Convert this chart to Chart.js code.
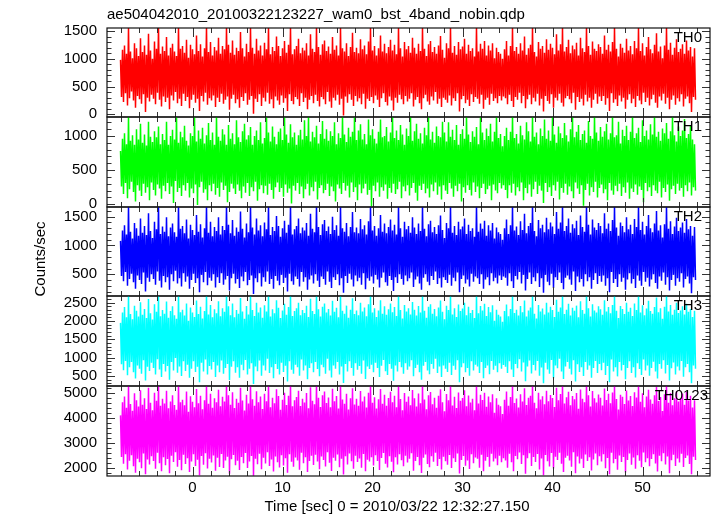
<!DOCTYPE html>
<html>
<head>
<meta charset="utf-8">
<script src="https://cdn.jsdelivr.net/npm/chart.js@4.4.0/dist/chart.umd.min.js"></script>
<style>
html, body { margin: 0; padding: 0; background: #fff; }
#wrap { position: relative; width: 717px; height: 516px; }
#wrap canvas { position: absolute; left: 0; top: 0; }
</style>
</head>
<body>
<div id="wrap">
  <canvas id="p0" width="717" height="516"></canvas>
  <canvas id="p1" width="717" height="516"></canvas>
  <canvas id="p2" width="717" height="516"></canvas>
  <canvas id="p3" width="717" height="516"></canvas>
  <canvas id="p4" width="717" height="516"></canvas>
</div>
<script>
// texts
const plotTitle = 'ae504042010_20100322123227_wam0_bst_4band_nobin.qdp';
const xTitle = 'Time [sec] 0 = 2010/03/22 12:32:27.150';
const yTitle = 'Counts/sec';
const bandNames = ['TH0', 'TH1', 'TH2', 'TH3', 'TH0123'];

// time bins: first bin at -8 s, 1/9 s apart (peaks and dips alternate)
const tStart = -8;
const tStep = 1 / 9;

// y axis ranges per band
const yMin = [-49, -40, 123, 227, 1694];
const yMax = [1554, 1278, 1668, 2683, 5266];
const yStepLabel = [500, 500, 500, 500, 1000];
const yStepMinor = [100, 100, 100, 100, 200];

// counts/sec
const th0 = [
  980,310, 1160,220, 1240,380, 1090,160, 1560,290, 1130,410, 1010,250, 1280,120,
  1190,330, 1050,270, 1370,190, 1120,360, 1240,40, 1070,300, 1450,230, 1150,350,
  1000,280, 1310,180, 1180,390, 1560,260, 1090,140, 1220,320, 1140,220, 1390,300,
  1060,90, 1200,340, 1270,250, 1130,400, 1050,200, 1560,280, 1180,150, 1230,370,
  1110,240, 1340,310, 1020,110, 1250,260, 1170,350, 1080,210, 1420,280, 1140,60,
  1260,330, 1040,230, 1190,390, 1560,170, 1120,290, 1300,250, 1060,340, 1210,130,
  1150,300, 1380,220, 1090,370, 1230,190, 1170,260, 1560,320, 1250,80, 1110,280,
  1330,350, 1070,200, 1200,270, 1140,120, 1480,310, 1190,240, 1040,380, 1270,170,
  1120,260, 1560,330, 1200,10, 1090,280, 1360,220, 1150,360, 1240,150, 1060,300,
  1290,230, 1170,390, 1560,190, 1080,270, 1210,110, 1140,320, 1400,250, 1230,170,
  1050,340, 1190,210, 1320,290, 1110,60, 1250,360, 1560,240, 1080,180, 1170,310,
  1230,270, 1360,150, 1100,380, 1200,220, 1150,300, 1280,90, 1060,260, 1440,330,
  1180,200, 1120,350, 1560,240, 1210,140, 1070,310, 1260,270, 1330,180, 1140,400,
  1220,230, 1090,120, 1390,300, 1160,250, 1240,350, 1060,170, 1560,280, 1190,-20,
  1130,320, 1280,210, 1050,360, 1210,260, 1470,150, 1120,330, 1200,230, 1100,290,
  1350,180, 1170,370, 1240,100, 1080,280, 1310,240, 1560,310, 1150,200, 1230,340,
  1060,260, 1190,130, 1420,290, 1130,380, 1270,220, 1100,160, 1210,320, 1340,250,
  1150,70, 1250,300, 1080,210, 1560,350, 1190,270, 1040,180, 1300,330, 1170,230,
  1230,280, 1110,380, 1380,140, 1200,260, 1090,310, 1270,200, 1140,90, 1560,290,
  1180,350, 1050,230, 1260,170, 1320,320, 1120,250, 1210,400, 1090,190, 1240,280,
  1410,130, 1160,300, 1020,260, 1280,210, 1190,340, 1560,160, 1110,290, 1230,240,
  1070,380, 1300,50, 1170,270, 1220,330, 1360,200, 1090,260, 1250,150, 1140,360,
  1190,220, 1040,310, 1560,280, 1130,190, 1270,350, 1180,100, 1320,260, 1060,300,
  1240,170, 1150,370, 1280,240, 1010,290, 1200,200, 1120,330, 1090,250, 1000,320,
  1170,290, 1320,180, 1060,350, 1230,240, 1560,130, 1140,310, 1210,260, 1090,390,
  1280,200, 1150,330, 1400,110, 1070,270, 1190,350, 1250,180, 1560,300, 1120,230,
  1040,370, 1300,160, 1180,280, 1230,50, 1110,330, 1350,240, 1160,190, 1270,360,
  1200,120, 1080,300, 1440,250, 1150,370, 1260,210, 1560,140, 1130,290, 1210,330,
  1340,270, 1100,200, 1240,390, 1170,80, 1290,310, 1060,220, 1380,280, 1190,160,
  1120,350, 1560,230, 1230,300, 1070,120, 1310,260, 1180,370, 1140,190, 1260,320,
  1210,240, 1090,330, 1420,170, 1160,290, 1250,60, 1130,380, 1300,210, 1560,270,
  1180,150, 1040,340, 1270,230, 1200,300, 1110,100, 1360,260, 1150,360, 1230,200,
  1080,280, 1320,130, 1190,330, 1560,250, 1140,180, 1280,390, 1060,220, 1210,300,
  1390,160, 1170,270, 1100,350, 1250,210, 1460,120, 1130,320, 1220,250, 1010,370,
  1240,190, 1560,300, 1160,90, 1290,260, 1070,340, 1200,170, 1350,290, 1120,230,
  1180,360, 1260,140, 1090,280, 1330,320, 1150,200, 1210,40, 1040,310, 1190,260
];
const th1 = [
  780,260, 960,150, 1040,310, 880,90, 1290,220, 930,330, 1010,180, 870,40,
  1100,280, 950,200, 1180,120, 900,300, 1020,170, 860,250, 1210,60, 990,320,
  910,210, 1070,130, 980,290, 1140,230, 880,80, 1030,270, 940,190, 1210,310,
  870,150, 1000,260, 1090,20, 950,340, 1290,180, 900,240, 1060,120, 980,280,
  1150,200, 930,310, 860,100, 1040,230, 1000,160, 1290,290, 920,-10, 1080,250,
  960,330, 1120,170, 890,220, 1010,60, 1190,280, 940,190, 1050,300, 870,140,
  1290,240, 990,110, 930,320, 1100,210, 1020,270, 870,30, 1160,180, 960,300,
  1040,230, 880,150, 1230,290, 980,200, 910,90, 1070,260, 1180,170, 950,310,
  1010,120, 1130,250, 870,190, 1000,330, 1080,50, 940,220, 1200,280, 890,160,
  970,270, 1290,140, 1050,300, 920,210, 1140,80, 990,250, 880,320, 1060,180,
  1110,240, 940,110, 1290,290, 1020,170, 900,230, 1170,10, 980,270, 1050,200,
  870,310, 1010,150, 1090,260, 950,90, 1230,220, 1000,300, 1290,130, 920,250,
  1060,190, 980,330, 1150,70, 890,240, 1030,280, 1220,160, 960,210, 1100,300,
  930,120, 1070,260, 1000,190, 1200,40, 880,290, 1040,230, 970,150, 1290,310,
  1020,200, 910,270, 1120,100, 990,320, 1060,180, 1290,250, 940,60, 1080,290,
  1170,160, 950,230, 1030,300, 880,140, 1240,210, 1010,-30, 1100,270, 960,190,
  890,320, 1060,110, 1240,250, 980,200, 1000,290, 1130,80, 920,240, 1050,170,
  1290,300, 970,150, 1080,220, 940,330, 1160,90, 1020,260, 870,190, 1110,280,
  1000,130, 1290,240, 930,310, 1070,170, 1180,50, 960,270, 1040,210, 890,300,
  1120,160, 1010,230, 1290,100, 950,290, 1060,190, 900,320, 1140,140, 1000,260,
  980,70, 1210,280, 1050,200, 920,150, 1200,310, 990,230, 1090,110, 940,270,
  1160,190, 870,300, 1030,40, 1100,250, 960,170, 1290,280, 1020,210, 910,130,
  1070,320, 990,180, 1130,260, 880,90, 1290,240, 1050,300, 940,150, 1110,220,
  1000,270, 1180,60, 920,290, 1060,200, 1290,160, 970,310, 1030,230, 850,280,
  1000,210, 1120,90, 940,280, 1060,170, 1290,300, 970,130, 1030,250, 890,190,
  1150,320, 1010,60, 950,240, 1200,160, 1070,290, 920,110, 1290,220, 990,330,
  1050,150, 880,270, 1110,200, 1000,20, 1240,310, 960,180, 1080,250, 930,120,
  1290,280, 1020,200, 900,330, 1140,70, 1040,240, 970,170, 1190,300, 1010,140,
  920,260, 1100,190, 1290,90, 980,320, 1060,230, 1160,150, 940,280, 1030,-20,
  1080,210, 900,300, 1220,130, 1000,250, 960,180, 1290,330, 1050,100, 930,240,
  1130,290, 990,160, 1070,220, 1180,60, 950,310, 1040,200, 1290,140, 980,270,
  1010,190, 1210,300, 890,120, 1090,250, 1000,170, 1150,320, 940,80, 1060,230,
  1290,180, 970,290, 1040,140, 1120,260, 910,210, 1230,30, 1000,310, 1080,190,
  950,250, 1170,120, 1020,280, 1290,200, 990,160, 1060,330, 930,100, 1110,240,
  1040,180, 1190,290, 960,50, 1070,220, 1290,270, 1010,150, 920,300, 1140,200,
  1000,240, 1080,110, 1250,280, 970,190, 1030,320, 1160,130, 950,250, 880,200
];
const th2 = [
  1080,470, 1260,380, 1350,540, 1190,300, 1680,420, 1240,510, 1120,360, 1390,250,
  1300,480, 1170,400, 1470,330, 1220,530, 1340,200, 1180,440, 1560,370, 1250,500,
  1130,420, 1410,320, 1280,550, 1680,390, 1200,270, 1330,470, 1240,360, 1490,450,
  1160,230, 1310,500, 1380,380, 1230,560, 1150,340, 1680,430, 1290,290, 1340,520,
  1210,370, 1450,460, 1120,250, 1360,400, 1270,510, 1180,350, 1530,430, 1240,190,
  1370,490, 1140,360, 1300,540, 1680,310, 1220,440, 1410,390, 1160,500, 1320,270,
  1250,450, 1490,350, 1190,520, 1340,320, 1270,410, 1680,470, 1360,220, 1210,430,
  1440,510, 1170,340, 1310,420, 1240,260, 1590,460, 1290,380, 1140,540, 1380,310,
  1230,400, 1680,480, 1310,160, 1190,430, 1470,360, 1260,520, 1350,290, 1160,450,
  1400,370, 1280,550, 1680,330, 1180,420, 1320,250, 1250,470, 1510,390, 1340,310,
  1150,490, 1300,350, 1430,440, 1220,200, 1360,510, 1680,380, 1190,320, 1280,460,
  1340,420, 1470,290, 1210,540, 1310,370, 1260,450, 1390,230, 1170,410, 1550,480,
  1290,340, 1230,500, 1680,390, 1320,280, 1180,460, 1370,420, 1440,320, 1250,550,
  1330,370, 1200,260, 1500,450, 1270,400, 1350,500, 1170,310, 1680,430, 1300,180,
  1240,470, 1390,350, 1160,510, 1320,410, 1580,290, 1230,480, 1310,380, 1210,440,
  1460,320, 1280,520, 1350,240, 1190,430, 1420,390, 1680,460, 1260,340, 1340,490,
  1170,410, 1300,270, 1530,440, 1240,530, 1380,360, 1210,300, 1320,470, 1450,400,
  1260,210, 1360,450, 1190,350, 1680,500, 1300,420, 1150,320, 1410,480, 1280,380,
  1340,430, 1220,530, 1490,280, 1310,410, 1200,460, 1380,340, 1250,230, 1680,440,
  1290,500, 1160,370, 1370,310, 1430,470, 1230,400, 1320,550, 1200,330, 1350,430,
  1520,270, 1270,450, 1130,400, 1390,350, 1300,490, 1680,300, 1220,440, 1340,380,
  1180,530, 1410,190, 1280,420, 1330,480, 1470,340, 1200,410, 1360,290, 1250,510,
  1300,370, 1150,460, 1680,430, 1240,330, 1380,500, 1290,250, 1430,410, 1170,450,
  1350,310, 1260,520, 1390,380, 1120,440, 1310,340, 1230,480, 1200,400, 1100,460,
  1300,440, 1450,300, 1200,520, 1350,380, 1680,260, 1260,470, 1330,410, 1180,540,
  1420,340, 1270,490, 1550,220, 1210,420, 1340,530, 1390,330, 1680,450, 1250,380,
  1160,520, 1440,280, 1300,430, 1360,180, 1230,490, 1480,370, 1280,310, 1400,510,
  1330,260, 1200,450, 1580,400, 1290,530, 1400,350, 1680,240, 1250,440, 1340,480,
  1470,410, 1220,320, 1370,550, 1300,210, 1430,460, 1180,360, 1520,420, 1320,290,
  1240,500, 1680,380, 1360,450, 1190,250, 1450,400, 1310,520, 1270,330, 1390,470,
  1340,370, 1210,480, 1560,300, 1290,430, 1380,190, 1250,540, 1440,350, 1680,420,
  1310,280, 1170,500, 1400,370, 1340,440, 1230,230, 1490,410, 1280,520, 1360,340,
  1200,420, 1460,260, 1320,480, 1680,390, 1270,300, 1410,540, 1190,370, 1340,440,
  1530,290, 1300,410, 1230,500, 1380,350, 1600,250, 1260,460, 1350,390, 1140,530,
  1370,320, 1680,450, 1290,220, 1420,400, 1200,490, 1330,300, 1480,430, 1250,370,
  1310,520, 1400,270, 1220,420, 1460,460, 1280,340, 1340,170, 1170,450, 1320,400
];
const th3 = [
  1950,820, 2230,660, 2380,910, 2100,520, 2690,740, 2190,880, 2050,600, 2420,430,
  2280,790, 2120,700, 2510,560, 2170,930, 2330,380, 2080,750, 2600,640, 2210,860,
  2040,720, 2460,540, 2250,960, 2690,680, 2130,470, 2300,830, 2200,620, 2530,770,
  2090,400, 2270,880, 2400,650, 2160,990, 2060,590, 2690,760, 2240,500, 2310,900,
  2150,640, 2480,810, 2010,450, 2370,700, 2230,900, 2110,610, 2560,750, 2190,330,
  2390,860, 2070,620, 2270,950, 2690,540, 2180,770, 2440,680, 2100,880, 2320,470,
  2210,790, 2540,600, 2130,920, 2350,560, 2250,720, 2690,830, 2400,390, 2160,750,
  2480,900, 2100,590, 2300,740, 2200,450, 2630,810, 2260,660, 2060,940, 2410,540,
  2180,700, 2690,850, 2300,280, 2140,760, 2500,630, 2230,920, 2370,510, 2090,790,
  2430,650, 2260,970, 2690,580, 2120,740, 2320,440, 2210,830, 2570,690, 2360,540,
  2080,860, 2290,610, 2470,780, 2170,350, 2380,900, 2690,670, 2140,560, 2270,810,
  2350,740, 2500,510, 2160,950, 2300,650, 2220,790, 2420,410, 2110,720, 2610,850,
  2270,600, 2190,880, 2690,690, 2320,490, 2120,810, 2390,740, 2480,560, 2230,970,
  2330,650, 2150,460, 2550,790, 2250,700, 2360,880, 2100,540, 2690,760, 2280,310,
  2200,830, 2420,620, 2090,900, 2310,720, 2620,510, 2190,850, 2290,670, 2160,770,
  2500,560, 2260,920, 2370,420, 2130,760, 2460,690, 2690,810, 2230,600, 2350,860,
  2110,720, 2290,470, 2570,780, 2200,940, 2400,630, 2170,530, 2320,830, 2480,700,
  2240,370, 2380,790, 2140,620, 2690,880, 2300,740, 2070,560, 2440,850, 2260,670,
  2350,760, 2180,930, 2520,490, 2310,720, 2150,810, 2410,600, 2230,400, 2690,780,
  2280,880, 2090,650, 2390,550, 2460,830, 2200,700, 2330,970, 2130,580, 2370,760,
  2560,470, 2250,790, 2050,700, 2420,610, 2300,860, 2690,530, 2180,780, 2350,670,
  2110,930, 2450,330, 2270,740, 2340,850, 2500,600, 2160,720, 2390,510, 2220,900,
  2300,650, 2080,810, 2690,760, 2210,580, 2410,880, 2290,440, 2470,720, 2140,790,
  2380,550, 2240,910, 2430,670, 2010,780, 2310,600, 2170,850, 2120,700, 1980,800,
  2270,750, 2450,580, 2130,900, 2330,680, 2690,470, 2220,830, 2310,710, 2150,960,
  2410,620, 2240,870, 2560,360, 2120,760, 2290,920, 2370,570, 2690,800, 2200,650,
  2070,910, 2440,510, 2260,730, 2340,300, 2180,860, 2500,680, 2230,560, 2390,940,
  2300,440, 2110,790, 2580,710, 2250,970, 2370,620, 2690,420, 2190,760, 2310,880,
  2470,700, 2150,540, 2360,930, 2280,350, 2420,820, 2100,610, 2540,740, 2300,500,
  2200,880, 2690,670, 2350,790, 2120,450, 2460,720, 2290,910, 2230,580, 2400,830,
  2320,660, 2170,860, 2570,530, 2260,770, 2380,330, 2210,950, 2440,620, 2690,740,
  2280,490, 2080,880, 2410,650, 2330,800, 2190,410, 2500,720, 2250,900, 2360,580,
  2140,740, 2480,460, 2300,850, 2690,690, 2230,530, 2430,950, 2160,650, 2340,790,
  2550,510, 2270,720, 2200,890, 2380,620, 2640,430, 2240,830, 2350,700, 2060,930,
  2390,570, 2690,800, 2260,380, 2440,710, 2170,870, 2310,540, 2500,760, 2220,650,
  2290,910, 2400,480, 2180,740, 2470,830, 2250,600, 2330,300, 2110,790, 2280,700
];
const th0123 = [
  4100,2450, 4620,2180, 4850,2560, 4400,1950, 5280,2300, 4550,2520, 4280,2080, 4980,1820,
  4700,2380, 4450,2240, 5100,2000, 4520,2590, 4780,1760, 4350,2350, 5200,2150, 4600,2480,
  4300,2290, 5000,1980, 4680,2620, 5280,2200, 4480,1880, 4760,2440, 4570,2120, 5080,2370,
  4380,1800, 4650,2500, 4900,2250, 4510,2640, 4320,2060, 5280,2330, 4620,1920, 4720,2540,
  4500,2170, 5050,2400, 4240,1850, 4860,2270, 4640,2560, 4420,2090, 5150,2340, 4580,1720,
  4880,2490, 4340,2140, 4700,2600, 5280,1990, 4560,2380, 4960,2230, 4400,2510, 4780,1900,
  4620,2420, 5120,2050, 4460,2570, 4840,2010, 4650,2310, 5280,2460, 4900,1780, 4520,2360,
  5020,2530, 4390,2120, 4760,2300, 4600,1930, 5200,2450, 4690,2200, 4290,2610, 4920,2010,
  4570,2270, 5280,2490, 4740,1700, 4480,2380, 5060,2160, 4620,2580, 4850,1960, 4350,2420,
  4960,2190, 4660,2640, 5280,2090, 4420,2350, 4800,1870, 4580,2470, 5140,2240, 4870,2030,
  4320,2520, 4720,2110, 5000,2400, 4510,1820, 4880,2560, 5280,2260, 4460,2060, 4700,2430,
  4830,2310, 5080,1940, 4470,2620, 4760,2200, 4610,2440, 4990,1850, 4380,2290, 5220,2500,
  4680,2130, 4540,2540, 5280,2270, 4800,1960, 4430,2470, 4900,2330, 5050,2070, 4590,2640,
  4810,2220, 4420,1890, 5160,2420, 4660,2300, 4870,2550, 4370,2040, 5280,2380, 4730,1750,
  4560,2480, 4960,2150, 4330,2590, 4780,2280, 5180,1980, 4530,2500, 4760,2250, 4480,2390,
  5070,2020, 4650,2570, 4850,1880, 4410,2340, 5000,2270, 5280,2440, 4600,2110, 4820,2520,
  4370,2290, 4740,1930, 5150,2410, 4560,2610, 4920,2180, 4480,2030, 4790,2480, 5040,2260,
  4620,1840, 4880,2440, 4420,2150, 5280,2560, 4750,2320, 4300,2080, 4990,2500, 4640,2230,
  4850,2380, 4500,2600, 5110,1900, 4780,2290, 4450,2450, 4970,2120, 4580,1810, 5280,2420,
  4730,2550, 4340,2170, 4900,2040, 5030,2480, 4540,2260, 4800,2620, 4400,2090, 4880,2370,
  5140,1950, 4620,2460, 4260,2280, 4950,2140, 4700,2530, 5280,2010, 4490,2400, 4840,2250,
  4390,2590, 5010,1790, 4680,2330, 4790,2490, 5100,2100, 4460,2310, 4890,1970, 4610,2560,
  4760,2200, 4300,2430, 5280,2380, 4570,2020, 4920,2540, 4710,1880, 5000,2300, 4440,2450,
  4850,2060, 4620,2580, 4940,2270, 4200,2390, 4780,2120, 4520,2500, 4460,2240, 4150,2400,
  4720,2310, 5050,2020, 4480,2580, 4830,2240, 5280,1880, 4590,2490, 4770,2360, 4410,2630,
  4940,2170, 4650,2520, 5180,1780, 4510,2400, 4800,2600, 4880,2090, 5280,2450, 4600,2250,
  4380,2570, 5000,1950, 4730,2390, 4860,1720, 4540,2530, 5080,2280, 4660,2070, 4910,2610,
  4790,1990, 4430,2460, 5200,2330, 4700,2620, 4950,2180, 5280,1850, 4570,2420, 4820,2500,
  5040,2310, 4500,2060, 4870,2640, 4740,1800, 4990,2470, 4360,2190, 5130,2380, 4760,2010,
  4620,2550, 5280,2290, 4900,2440, 4450,1910, 5070,2350, 4780,2590, 4610,2120, 4930,2480,
  4800,2270, 4490,2560, 5170,2000, 4710,2410, 4960,1760, 4580,2620, 5010,2200, 5280,2370,
  4750,1940, 4330,2510, 4920,2250, 4840,2450, 4550,1830, 5090,2330, 4690,2590, 4870,2140,
  4470,2430, 5020,1980, 4810,2520, 5280,2300, 4640,2040, 4980,2630, 4420,2240, 4850,2400,
  5120,2080, 4730,2370, 4560,2560, 4900,2190, 5230,1870, 4670,2500, 4830,2280, 4270,2600,
  4940,2150, 5280,2470, 4600,1800, 4990,2320, 4500,2540, 4780,2090, 5060,2390, 4650,2230,
  4760,2580, 4970,2050, 4520,2410, 5040,2510, 4690,2170, 4880,1760, 4410,2460, 4700,2330
];
const bandValues = [th0, th1, th2, th3, th0123];

const FONT = '"Liberation Sans", Arial, Helvetica, sans-serif';
const colors = ['#ff0000', '#00ff00', '#0000ff', '#00ffff', '#ff00ff'];
const panelTop = [28, 117, 207, 296, 386];
const panelBottom = [117, 207, 296, 386, 476];

// qdp style frame: box, inward ticks on all four sides, band name
const qdpFrame = {
  id: 'qdpFrame',
  afterDatasetsDraw(chart, args, opts) {
    const ctx = chart.ctx;
    const a = chart.chartArea;
    const xs = chart.scales.x, ys = chart.scales.y;
    ctx.save();
    ctx.strokeStyle = '#333';
    ctx.lineWidth = 1;
    ctx.beginPath();
    for (let t = -8; t <= 56; t += 2) {
      const px = Math.round(xs.getPixelForValue(t)) + 0.5;
      const len = t % 10 === 0 ? 9 : 5;
      ctx.moveTo(px, a.top); ctx.lineTo(px, a.top + len);
      ctx.moveTo(px, a.bottom); ctx.lineTo(px, a.bottom - len);
    }
    const first = Math.ceil(ys.min / opts.minor) * opts.minor;
    for (let v = first; v <= ys.max; v += opts.minor) {
      const py = Math.round(ys.getPixelForValue(v)) + 0.5;
      const len = v % opts.major === 0 ? 8 : 4.5;
      ctx.moveTo(a.left, py); ctx.lineTo(a.left + len, py);
      ctx.moveTo(a.right, py); ctx.lineTo(a.right - len, py);
    }
    ctx.stroke();
    ctx.strokeStyle = '#111';
    ctx.lineWidth = 1.2;
    ctx.strokeRect(a.left, a.top, a.right - a.left, a.bottom - a.top);

    ctx.fillStyle = '#000';
    ctx.font = '15px ' + FONT;
    ctx.textBaseline = 'middle';
    ctx.textAlign = 'right';
    ctx.fillText(opts.name, opts.nameRight, a.top + 10);

    if (opts.title) {
      ctx.textAlign = 'left';
      ctx.fillText(opts.title, a.left, 15);
    }
    if (opts.yTitle) {
      ctx.save();
      ctx.translate(41, 259);
      ctx.rotate(-Math.PI / 2);
      ctx.textAlign = 'center';
      ctx.fillText(opts.yTitle, 0, 0);
      ctx.restore();
    }
    if (opts.xTitle) {
      ctx.textAlign = 'center';
      ctx.fillText(opts.xTitle, 397, 507);
    }
    ctx.restore();
  }
};

// labelled y ticks at multiples of the label step inside the range
function labelTicks(step) {
  return (s) => {
    const out = [];
    for (let v = Math.ceil(s.min / step) * step; v <= s.max; v += step) out.push({ value: v });
    s.ticks = out;
  };
}

function makePanel(i) {
  const last = i === 4;
  const pts = bandValues[i].map((v, k) => ({ x: tStart + k * tStep, y: v }));
  return new Chart(document.getElementById('p' + i), {
    type: 'line',
    data: {
      datasets: [{
        data: pts,
        borderColor: colors[i],
        borderWidth: 1.5,
        pointRadius: 0,
        tension: 0,
        fill: false
      }]
    },
    options: {
      responsive: false,
      animation: false,
      events: [],
      parsing: false,
      layout: {
        padding: { left: 0, right: 7, top: panelTop[i], bottom: last ? 20 : 516 - panelBottom[i] }
      },
      plugins: {
        legend: { display: false },
        tooltip: { enabled: false },
        qdpFrame: {
          name: bandNames[i],
          nameRight: last ? 708 : 702,
          major: yStepLabel[i],
          minor: yStepMinor[i],
          title: i === 0 ? plotTitle : null,
          yTitle: i === 0 ? yTitle : null,
          xTitle: last ? xTitle : null
        }
      },
      scales: {
        x: {
          type: 'linear',
          min: -9.5,
          max: 57.5,
          display: last,
          afterFit: last ? (s) => { s.height = 20; } : undefined,
          grid: { display: false, drawTicks: false },
          border: { display: false },
          ticks: {
            stepSize: 10,
            includeBounds: false,
            padding: 3,
            maxRotation: 0,
            autoSkip: false,
            color: '#000',
            font: { family: FONT, size: 15 },
            callback: (v) => String(v)
          }
        },
        y: {
          type: 'linear',
          min: yMin[i],
          max: yMax[i],
          afterFit: (s) => { s.width = 107; },
          afterBuildTicks: labelTicks(yStepLabel[i]),
          grid: { display: false, drawTicks: false },
          border: { display: false },
          ticks: {
            padding: 10,
            autoSkip: false,
            color: '#000',
            font: { family: FONT, size: 15 },
            callback: (v) => String(v)
          }
        }
      }
    },
    plugins: [qdpFrame]
  });
}

for (let i = 0; i < 5; i++) makePanel(i);
</script>
</body>
</html>
